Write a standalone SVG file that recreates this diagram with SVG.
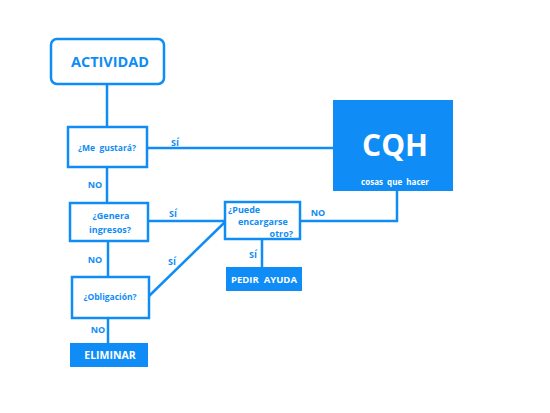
<svg xmlns="http://www.w3.org/2000/svg" width="550" height="413" viewBox="0 0 550 413">
<style>
.box{fill:#fff;stroke:#0f8cf5;stroke-width:2.5}
.fill{fill:#0f8cf5}
.ln{stroke:#0f8cf5;stroke-width:2.5;fill:none}
.t{font-family:"Open Sans","Liberation Sans",sans-serif;font-weight:bold;fill:#0f8cf5;white-space:pre}
.w{font-family:"Open Sans","Liberation Sans",sans-serif;font-weight:bold;fill:#fff;white-space:pre}
</style>
<rect width="550" height="413" fill="#fff"/>
<g id="connectors">
<line class="ln" x1="107" y1="84" x2="107" y2="127"/>
<line class="ln" x1="147" y1="148" x2="334" y2="148"/>
<line class="ln" x1="107" y1="167" x2="107" y2="203"/>
<polyline class="ln" points="397,191 397,221 300,221"/>
<line class="ln" x1="148" y1="221" x2="225" y2="221"/>
<line class="ln" x1="108" y1="241" x2="108" y2="277"/>
<line class="ln" x1="148" y1="297" x2="225" y2="222"/>
<line class="ln" x1="262" y1="239" x2="262" y2="267"/>
<line class="ln" x1="108" y1="318" x2="108" y2="343"/>
<text class="t" x="175" y="146" font-size="9" text-anchor="middle">SÍ</text>
<text class="t" x="95" y="188" font-size="9" text-anchor="middle">NO</text>
<text class="t" x="318" y="216" font-size="9" text-anchor="middle">NO</text>
<text class="t" x="173" y="217" font-size="9" text-anchor="middle">SÍ</text>
<text class="t" x="95" y="263" font-size="9" text-anchor="middle">NO</text>
<text class="t" x="172" y="265" font-size="9" text-anchor="middle">SÍ</text>
<text class="t" x="253" y="258" font-size="9" text-anchor="middle">SÍ</text>
<text class="t" x="98" y="333" font-size="9" text-anchor="middle">NO</text>
</g>
<g id="actividad">
<rect class="box" x="51" y="39" width="113" height="45" rx="6"/>
<text class="t" x="110" y="67" font-size="14.5" text-anchor="middle">ACTIVIDAD</text>
</g>
<g id="megustara">
<rect class="box" x="68" y="127" width="79" height="40"/>
<text class="t" x="107" y="151" font-size="8.5" text-anchor="middle">¿Me  gustará?</text>
</g>
<g id="cqh">
<rect class="fill" x="333" y="100" width="120" height="91"/>
<text class="w" x="395" y="156" font-size="30" text-anchor="middle">CQH</text>
<text class="w" x="395" y="185" font-size="8" text-anchor="middle">cosas  que  hacer</text>
</g>
<g id="genera">
<rect class="box" x="70" y="203" width="78" height="38"/>
<text class="t" x="111" y="219" font-size="9" text-anchor="middle">¿Genera</text>
<text class="t" x="110" y="233" font-size="9" text-anchor="middle">ingresos?</text>
</g>
<g id="puede">
<rect class="box" x="225" y="202" width="75" height="37"/>
<text class="t" x="228" y="213" font-size="9">¿Puede</text>
<text class="t" x="238" y="225" font-size="9">encargarse</text>
<text class="t" x="293" y="237" font-size="9" text-anchor="end">otro?</text>
</g>
<g id="pedir">
<rect class="fill" x="226" y="267" width="76" height="24"/>
<text class="w" x="264" y="283" font-size="9.5" text-anchor="middle">PEDIR  AYUDA</text>
</g>
<g id="obligacion">
<rect class="box" x="72" y="277" width="77" height="41"/>
<text class="t" x="110" y="300" font-size="8.5" text-anchor="middle">¿Obligación?</text>
</g>
<g id="eliminar">
<rect class="fill" x="70" y="343" width="78" height="24"/>
<text class="w" x="110" y="359" font-size="10.5" text-anchor="middle">ELIMINAR</text>
</g>
</svg>
